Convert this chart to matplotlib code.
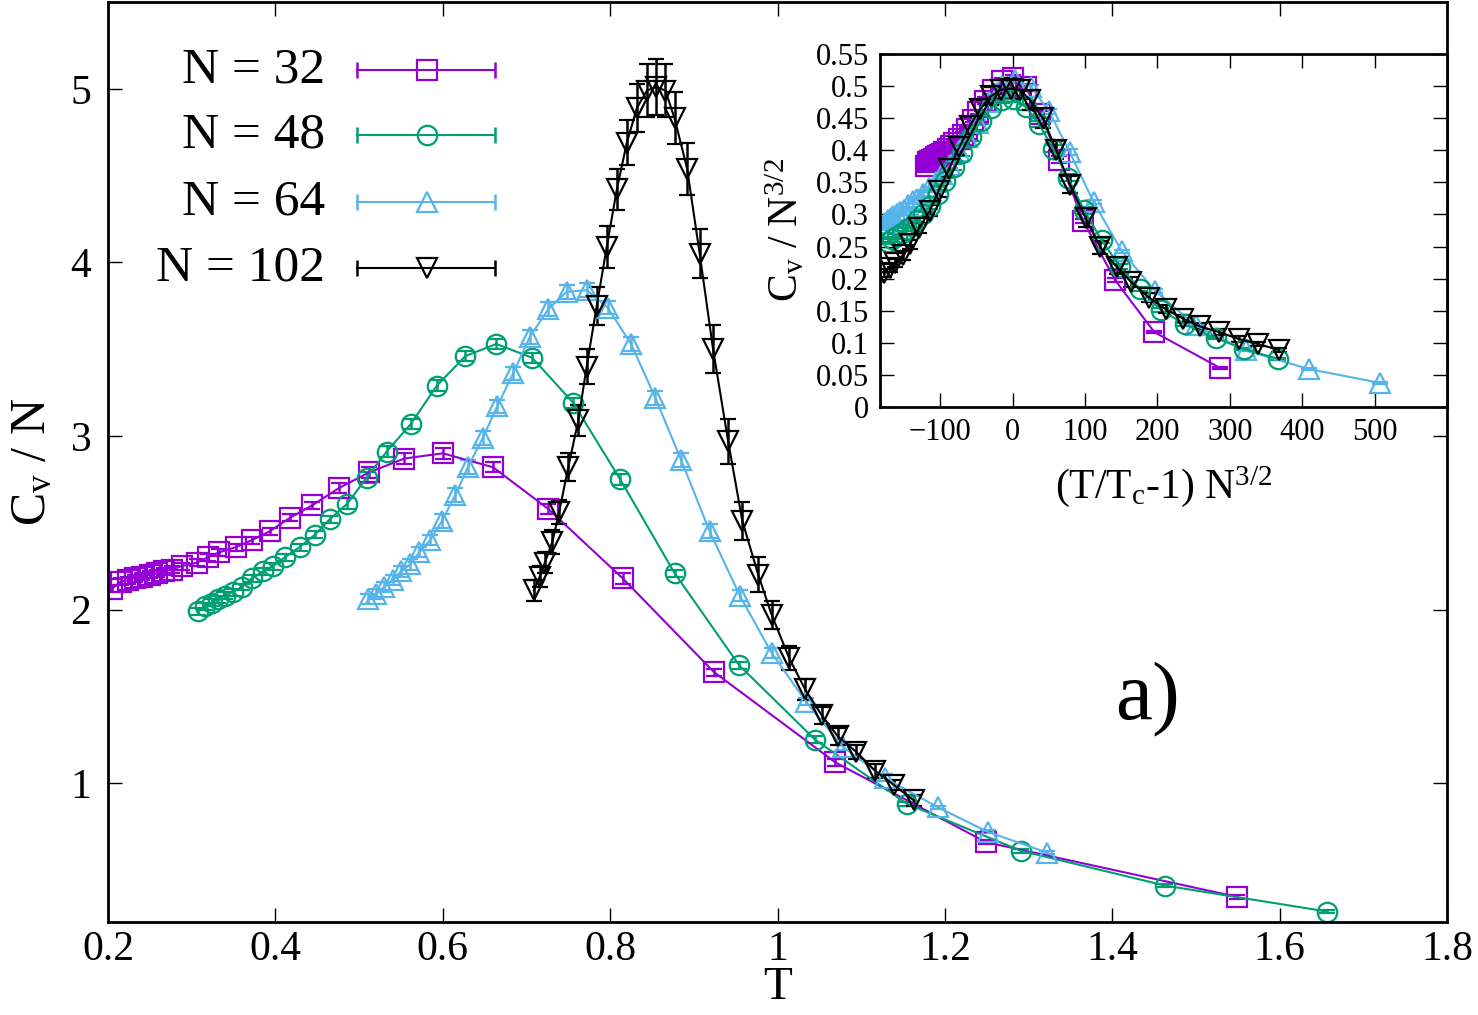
import numpy as np
import matplotlib
matplotlib.use('Agg')
import matplotlib.pyplot as plt
from matplotlib.lines import Line2D

plt.rcParams.update({
    'font.family': 'serif',
    'font.serif': ['Liberation Serif', 'DejaVu Serif'],
    'mathtext.fontset': 'custom',
    'mathtext.rm': 'Liberation Serif',
    'mathtext.it': 'Liberation Serif:italic',
})

# ---------------------------------------------------------------------------
# Donnees : T, C_v/N et barres d'erreur
# ---------------------------------------------------------------------------
T32 = [0.205, 0.215, 0.224, 0.232, 0.241, 0.250, 0.259, 0.267, 0.276, 0.288,
       0.306, 0.319, 0.333, 0.353, 0.372, 0.393, 0.418, 0.444, 0.476, 0.512,
       0.554, 0.600, 0.660, 0.726, 0.815, 0.924, 1.069, 1.249, 1.549]
C32 = [2.12, 2.16, 2.17, 2.18, 2.19, 2.20, 2.21, 2.22, 2.23, 2.25,
       2.27, 2.30, 2.33, 2.36, 2.40, 2.45, 2.53, 2.60, 2.70, 2.79,
       2.87, 2.90, 2.82, 2.58, 2.18, 1.64, 1.12, 0.66, 0.345]
E32 = [0.02] * 18 + [0.03, 0.03, 0.03, 0.03, 0.03, 0.03, 0.03, 0.02, 0.02, 0.01, 0.01]

T48 = [0.3075, 0.316, 0.324, 0.331, 0.340, 0.349, 0.360, 0.372, 0.385, 0.397,
       0.411, 0.429, 0.447, 0.465, 0.486, 0.509, 0.533, 0.562, 0.593, 0.627,
       0.664, 0.707, 0.756, 0.812, 0.877, 0.954, 1.045, 1.155, 1.291, 1.463, 1.657]
C48 = [1.99, 2.02, 2.04, 2.06, 2.08, 2.10, 2.13, 2.18, 2.22, 2.25,
       2.30, 2.36, 2.43, 2.52, 2.61, 2.76, 2.91, 3.07, 3.29, 3.46,
       3.53, 3.45, 3.19, 2.75, 2.21, 1.68, 1.25, 0.88, 0.61, 0.41, 0.26]
E48 = [0.02] * 14 + [0.03] * 9 + [0.03, 0.02, 0.02, 0.02, 0.01, 0.01, 0.01, 0.01]

T64 = [0.511, 0.520, 0.530, 0.541, 0.550, 0.561, 0.572, 0.585, 0.599, 0.615,
       0.630, 0.648, 0.665, 0.684, 0.704, 0.726, 0.748, 0.772, 0.797, 0.825,
       0.854, 0.885, 0.919, 0.955, 0.993, 1.034, 1.078, 1.128, 1.192, 1.251, 1.322]
C64 = [2.06, 2.09, 2.13, 2.17, 2.22, 2.26, 2.33, 2.40, 2.51, 2.66,
       2.82, 2.99, 3.17, 3.36, 3.57, 3.73, 3.83, 3.84, 3.74, 3.53,
       3.22, 2.86, 2.45, 2.08, 1.75, 1.47, 1.21, 1.03, 0.86, 0.72, 0.60]
E64 = [0.03] * 8 + [0.04] * 15 + [0.03, 0.03, 0.02, 0.02, 0.02, 0.01, 0.01, 0.01]

T102 = [0.709, 0.716, 0.722, 0.731, 0.739, 0.750, 0.762, 0.772, 0.784, 0.796,
        0.808, 0.820, 0.832, 0.844, 0.855, 0.866, 0.877, 0.892, 0.907, 0.923,
        0.941, 0.958, 0.977, 0.993, 1.014, 1.033, 1.053, 1.072, 1.094, 1.117,
        1.139, 1.163]
C102 = [2.11, 2.19, 2.27, 2.39, 2.56, 2.82, 3.09, 3.40, 3.75, 4.09,
        4.42, 4.69, 4.89, 4.99, 5.01, 4.99, 4.83, 4.54, 4.05, 3.50,
        2.97, 2.51, 2.20, 1.97, 1.72, 1.54, 1.39, 1.27, 1.18, 1.07,
        0.99, 0.90]
E102 = [0.06, 0.06, 0.06, 0.07, 0.07, 0.08, 0.09, 0.10, 0.11, 0.12,
        0.12, 0.13, 0.14, 0.15, 0.16, 0.15, 0.15, 0.15, 0.14, 0.14,
        0.13, 0.11, 0.10, 0.08, 0.07, 0.06, 0.05, 0.05, 0.04, 0.04,
        0.03, 0.03]

TC = {32: 0.600, 48: 0.656, 64: 0.770, 102: 0.857}

series = [
    (32, T32, C32, E32, '#9400D3', 's'),
    (48, T48, C48, E48, '#009E73', 'o'),
    (64, T64, C64, E64, '#56B4E9', '^'),
    (102, T102, C102, E102, 'black', 'v'),
]
# dans l'encart, couleurs/symboles de 48 et 64 sont echanges
inset_style = {32: ('#9400D3', 's'), 48: ('#56B4E9', '^'),
               64: ('#009E73', 'o'), 102: ('black', 'v')}

W, H = 1478, 1015
fig = plt.figure(figsize=(W / 100, H / 100), dpi=100)

def fx(px):
    return px / W

def fy(py):
    return 1 - py / H

ax = fig.add_axes([fx(108), fy(922), fx(1447) - fx(108), fy(2) - fy(922)])

ms, mew, lw = 14, 1.6, 1.5
for N, T, C, E, col, mk in series:
    ax.errorbar(T, C, yerr=E, color=col, marker=mk, ms=ms, mfc='none', mec=col,
                mew=mew, lw=lw, elinewidth=1.8, capsize=6, capthick=1.8)

ax.set_xlim(0.2, 1.8)
ax.set_ylim(0.2, 5.5)
ax.set_xticks(np.arange(0.2, 1.81, 0.2))
ax.set_xticklabels(['0.2', '0.4', '0.6', '0.8', '1', '1.2', '1.4', '1.6', '1.8'])
ax.set_yticks([1, 2, 3, 4, 5])
ax.tick_params(axis='both', which='both', direction='in', top=True, right=True,
               length=10, width=1.0, labelsize=30)
ax.tick_params(axis='x', pad=6)
ax.tick_params(axis='y', pad=12)
for s in ax.spines.values():
    s.set_linewidth(2.0)
ax.set_xlabel('T', fontsize=34, labelpad=-2)
ax.set_ylabel(r'C$_\mathrm{v}$ / N', fontsize=36, labelpad=10)

fig.text(fx(1148), fy(700), 'a)', fontsize=60, ha='center', va='center')

# Legende facon gnuplot
rows = [70, 135, 202, 268]
for (N, T, C, E, col, mk), py in zip(series, rows):
    fig.text(fx(325), fy(py), 'N = %d' % N, fontsize=37, ha='right', va='center')
    fig.add_artist(Line2D([fx(357), fx(495)], [fy(py), fy(py)], color=col, lw=lw,
                          transform=fig.transFigure))
    fig.add_artist(Line2D([fx(357), fx(495)], [fy(py), fy(py)], color=col, ls='none',
                          marker='|', ms=12, mew=1.8, transform=fig.transFigure))
    fig.add_artist(Line2D([fx(427)], [fy(py)], color=col, ls='none', marker=mk,
                          ms=ms, mfc='none', mec=col, mew=mew, transform=fig.transFigure))

# Encart : (T/Tc - 1) N^{3/2} et C_v / N^{3/2}
ins = fig.add_axes([fx(880), fy(407), fx(1447) - fx(880), fy(54) - fy(407)])
for N, T, C, E, col, mk in series:
    icol, imk = inset_style[N]
    x = (np.array(T) / TC[N] - 1) * N ** 1.5
    y = np.array(C) / np.sqrt(N)
    e = np.array(E) / np.sqrt(N)
    ins.errorbar(x, y, yerr=e, color=icol, marker=imk, ms=ms, mfc='none', mec=icol,
                 mew=mew, lw=lw, elinewidth=1.8, capsize=6, capthick=1.8)
ins.set_xlim(-183, 600)
ins.set_ylim(0, 0.55)
ins.set_xticks(np.arange(-100, 501, 100))
ins.set_yticks(np.arange(0, 0.551, 0.05))
ins.set_yticklabels(['0', '0.05', '0.1', '0.15', '0.2', '0.25', '0.3', '0.35',
                     '0.4', '0.45', '0.5', '0.55'])
ins.tick_params(axis='both', which='both', direction='in', top=True, right=True,
                length=10, width=1.0, labelsize=22, pad=8)
for s in ins.spines.values():
    s.set_linewidth(2.0)
ins.set_xlabel(r'(T/T$_\mathrm{c}$-1) N$^{3/2}$', fontsize=30, labelpad=12)
ins.set_ylabel(r'C$_\mathrm{v}$ / N$^{3/2}$', fontsize=30, labelpad=6)

fig.savefig('out.png', dpi=100)
